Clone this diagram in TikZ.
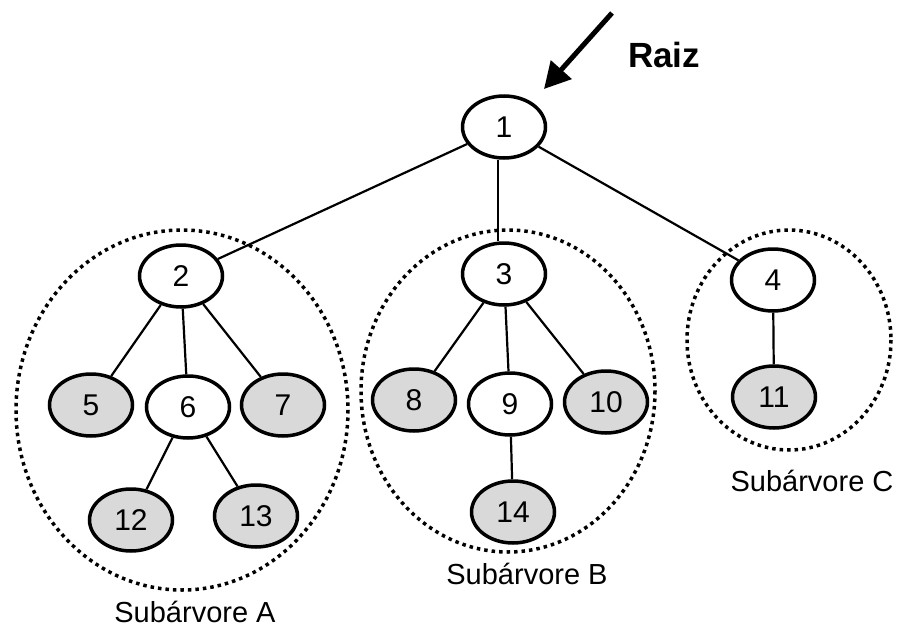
\documentclass[tikz,border=0pt]{standalone}
\usepackage{fontspec}
\setmainfont{Liberation Sans}
\usetikzlibrary{arrows.meta,calc,shapes.geometric}
\definecolor{leafgray}{RGB}{217,217,217}
\begin{document}
\begin{tikzpicture}[x=1pt,y=-1pt,
  tnode/.style={draw=black, line width=3.5pt, ellipse, minimum width=83pt, minimum height=62pt, inner sep=0pt, font=\fontsize{30}{35}\selectfont, fill=white},
  leaf/.style={tnode, fill=leafgray},
  edge/.style={line width=2.2pt},
  group/.style={draw=black, line width=3.5pt, dash pattern=on 3.5pt off 4pt},
  lbl/.style={anchor=base, inner sep=0pt, font=\fontsize{29}{34}\selectfont}]
\useasboundingbox (0,0) rectangle (897,629);
% subtree groupings
\draw[group] (182,410) ellipse [x radius=166, y radius=180];
\draw[group] (508,391) ellipse [x radius=147, y radius=161];
\draw[group] (789,340) ellipse [x radius=102, y radius=110];
% nodes
\node[tnode] (n1) at (504,127) {1};
\node[tnode] (n2) at (181,276) {2};
\node[tnode] (n3) at (504,274) {3};
\node[tnode] (n4) at (773,280) {4};
\node[leaf]  (n5) at (91,405) {5};
\node[tnode] (n6) at (188,407) {6};
\node[leaf]  (n7) at (283,405) {7};
\node[leaf]  (n8) at (414,400) {8};
\node[tnode] (n9) at (510,404) {9};
\node[leaf]  (n10) at (606,402) {10};
\node[leaf]  (n11) at (774,397) {11};
\node[leaf]  (n12) at (131,520) {12};
\node[leaf]  (n13) at (256,516) {13};
\node[leaf]  (n14) at (513,512) {14};
% edges
\draw[edge] (n1) -- (n2);
\draw[edge] ($(n1.south)+(-6,0)$) -- ($(n3.north)+(-6,0)$);
\draw[edge] (n1) -- (n4);
\draw[edge] (n2) -- (n5);
\draw[edge] (n2) -- (n6);
\draw[edge] (n2) -- (n7);
\draw[edge] (n3) -- (n8);
\draw[edge] (n3) -- (n9);
\draw[edge] (n3) -- (n10);
\draw[edge] (n4) -- (n11);
\draw[edge] (n6) -- (n12);
\draw[edge] (n6) -- (n13);
\draw[edge] (n9) -- (n14);
% labels
\node[lbl] (la) at (195,622) {Subárvore A};
\node[lbl] (lb) at (527,584) {Subárvore B};
\node[lbl] (lc) at (812,491) {Subárvore C};
% root marker
\node[anchor=base, inner sep=0pt, font=\fontsize{35}{40}\selectfont\bfseries] (raiz) at (664,67) {Raiz};
\coordinate (arrstart) at (612,13);
\coordinate (arrtip) at (544,89);
\draw[line width=5pt, -{Triangle[length=26pt,width=27pt]}] (arrstart) -- (arrtip);
\end{tikzpicture}
\end{document}
